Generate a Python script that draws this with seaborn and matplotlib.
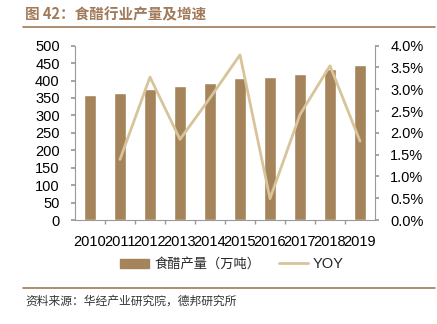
import matplotlib
matplotlib.use("Agg")
import matplotlib.pyplot as plt
import matplotlib.ticker as mticker
import seaborn as sns
import pandas as pd
import numpy as np

years = ["2010", "2011", "2012", "2013", "2014", "2015", "2016", "2017", "2018", "2019"]
production = [359, 364, 375, 383, 393, 408, 410, 420, 434, 445]
yoy = [np.nan, 1.39, 3.28, 1.85, 2.80, 3.79, 0.49, 2.42, 3.54, 1.81]

title = "图 42：食醋行业产量及增速"
bar_label = "食醋产量（万吨）"
line_label = "YOY"
source = "资料来源：华经产业研究院，德邦研究所"

BAR_C = "#a5845c"
LINE_C = "#d8c49a"
BROWN = "#a07a5a"

sns.set_theme(style="white")
plt.rcParams["font.family"] = ["Liberation Sans", "Noto Sans CJK SC", "DejaVu Sans"]

df = pd.DataFrame({"year": years, "prod": production, "yoy": yoy})
df["pos"] = np.arange(len(df))

fig = plt.figure(figsize=(4.37, 3.24), dpi=100)
ax = fig.add_axes([75/437, 1-220/324, 300/437, (220-45.7)/324])

sns.barplot(data=df, x="year", y="prod", color=BAR_C, width=0.4, saturation=1,
            ax=ax, label=bar_label, legend=False)
ax.set_xlim(-0.5, len(years)-0.5)
ax.set_ylim(0, 500)
ax.yaxis.set_major_locator(mticker.MultipleLocator(50))
ax.set_xlabel("")
ax.set_ylabel("")

ax2 = ax.twinx()
sns.lineplot(data=df, x="pos", y="yoy", color=LINE_C, linewidth=2, ax=ax2, label=line_label, legend=False)
ax2.set_ylim(0, 4)
ax2.yaxis.set_major_locator(mticker.MultipleLocator(0.5))
ax2.yaxis.set_major_formatter(mticker.FuncFormatter(lambda v, p: f"{v:.1f}%"))
ax2.set_xlabel("")
ax2.set_ylabel("")
ax2.set_xlim(-0.5, len(years)-0.5)

for a in (ax, ax2):
    for s in a.spines.values():
        s.set_visible(False)
    a.grid(False)
ax.spines["left"].set_visible(True)
ax.spines["bottom"].set_visible(True)
ax2.spines["right"].set_visible(True)
for s in (ax.spines["left"], ax.spines["bottom"], ax2.spines["right"]):
    s.set_color("#999999")
    s.set_linewidth(0.8)

ax.tick_params(axis="y", which="both", left=True, length=3, color="#999999", labelsize=10.5, pad=8, labelcolor="#000000")
ax2.tick_params(axis="y", which="both", right=True, length=3, color="#999999", labelsize=10.5, pad=8, labelcolor="#000000")
ax.tick_params(axis="x", which="major", bottom=False, labelsize=10.5, pad=5, labelcolor="#000000")
ax.xaxis.set_minor_locator(mticker.FixedLocator(np.arange(0.5, len(years)-1, 1.0)))
ax.tick_params(axis="x", which="minor", bottom=True, length=3, color="#999999")

# legend
handles = [plt.Rectangle((0, 0), 1, 1, color=BAR_C),
           plt.Line2D([0], [0], color=LINE_C, linewidth=2)]
leg = fig.legend(handles, [bar_label, line_label], loc="center", bbox_to_anchor=(232/437, 1-264/324),
                 ncol=2, frameon=False, handlelength=2.2, handletextpad=0.4, columnspacing=1.4,
                 prop={"family": ["Noto Sans CJK SC", "DejaVu Sans"], "size": 9.5})
leg.get_texts()[1].set_fontfamily(["Liberation Sans", "DejaVu Sans"])
leg.get_texts()[1].set_fontsize(10.5)

# title and rules
fig.text(25/437, 1-14/324, title, fontsize=10.5, fontweight="bold", color=BROWN,
         family=["Noto Sans CJK SC", "DejaVu Sans"], va="center", ha="left")
fig.add_artist(plt.Line2D([23/437, 435/437], [1-27/324, 1-27/324], color=BROWN, linewidth=1.2))
fig.add_artist(plt.Line2D([23/437, 435/437], [1-288/324, 1-288/324], color=BROWN, linewidth=1.2))
fig.text(25/437, 1-301/324, source, fontsize=8.5, color="#333333",
         family=["Noto Sans CJK SC", "DejaVu Sans"], va="center", ha="left")

fig.savefig("out.png", dpi=100)
